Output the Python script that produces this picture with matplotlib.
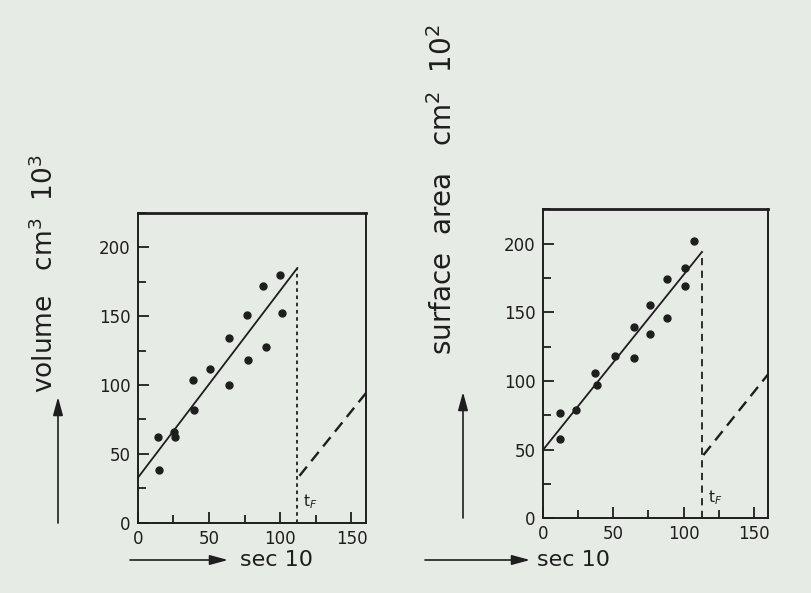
import matplotlib
matplotlib.use("Agg")
import matplotlib.pyplot as plt
from matplotlib.patches import FancyArrowPatch
from matplotlib.ticker import MultipleLocator

# ---- data ----
vol_t = [14, 15, 25.5, 26, 38.5, 39.5, 51, 64, 64, 77, 77.5, 88, 90, 100, 101]
vol_v = [62, 38, 66, 62, 104, 82, 112, 134, 100, 151, 118, 172, 128, 180, 152]
vol_fit_t = [0, 112]
vol_fit_v = [32.5, 185]
vol_post_t = [113.5, 160]
vol_post_v = [34, 94]
vol_tf = 112

area_t = [12, 12, 24, 37, 38.5, 51, 64.5, 65, 76, 76, 88.5, 88.5, 101, 101, 107]
area_v = [77, 58, 79, 106, 97, 118, 139, 117, 155, 134, 174, 146, 182, 169, 202]
area_fit_t = [0, 113]
area_fit_v = [49.5, 194]
area_post_t = [114, 160]
area_post_v = [46, 105]
area_tf = 113

x_ticks = [0, 50, 100, 150]
y_ticks = [0, 50, 100, 150, 200]
x_label = "sec 10"
vol_label = r"volume   cm$^3$  10$^3$"
area_label = r"surface  area   cm$^2$  10$^2$"

BG = "#e7ebe5"
INK = "#1e1e1e"

fig = plt.figure(figsize=(8.12, 5.93), dpi=100, facecolor=BG)
plt.rcParams['font.family'] = ['DejaVu Sans']


def panel(rect, t, v, fit_t, fit_v, post_t, post_v, tf, drop_style):
    ax = fig.add_axes(rect)
    ax.set_facecolor(BG)
    ax.set_xlim(0, 160)
    ax.set_ylim(0, 225)
    ax.plot(t, v, 'o', color=INK, ms=5, zorder=3)
    ax.plot(fit_t, fit_v, '-', color=INK, lw=1.3)
    ax.plot([tf, tf], [0, fit_v[-1]], color=INK, lw=1.3, linestyle=drop_style)
    ax.plot(post_t, post_v, color=INK, lw=1.7, linestyle=(0, (5, 3)))
    ax.text(tf + 4, 12, r"t$_F$", color=INK, fontsize=11)
    ax.set_xticks(x_ticks)
    ax.set_yticks(y_ticks)
    ax.xaxis.set_minor_locator(MultipleLocator(25))
    ax.yaxis.set_minor_locator(MultipleLocator(25))
    ax.tick_params(which='both', direction='in', color=INK, width=1.3,
                   labelsize=12, labelcolor=INK, top=False, right=False)
    ax.tick_params(which='major', length=8, pad=5)
    ax.tick_params(which='minor', length=6)
    for s in ax.spines.values():
        s.set_color(INK)
        s.set_linewidth(1.4)
    ax.spines['top'].set_linewidth(2)
    return ax


ax1 = panel([0.1696, 0.1186, 0.2808, 0.5222], vol_t, vol_v, vol_fit_t, vol_fit_v,
            vol_post_t, vol_post_v, vol_tf, (0, (2, 2)))
ax2 = panel([0.6683, 0.126, 0.2778, 0.521], area_t, area_v, area_fit_t, area_fit_v,
            area_post_t, area_post_v, area_tf, (0, (4, 3)))

W, H = 812.0, 593.0


def fx(px):
    return px / W


def fy(py):
    return 1 - py / H


# y labels (rotated) and arrows
fig.text(fx(45), fy(393), vol_label, rotation=90, ha='center', va='bottom',
         fontsize=19, color=INK)
fig.text(fx(443), fy(355), area_label, rotation=90, ha='center', va='bottom',
         fontsize=20, color=INK)


def arrow(p0, p1):
    fig.add_artist(FancyArrowPatch((fx(p0[0]), fy(p0[1])), (fx(p1[0]), fy(p1[1])),
                                   transform=fig.transFigure,
                                   arrowstyle='-|>,head_length=1.1,head_width=0.3',
                                   mutation_scale=10, color=INK, lw=1.2,
                                   shrinkA=0, shrinkB=0))


arrow((58, 523), (58, 397))
arrow((463, 518), (463, 392))
arrow((130, 560), (228, 560))
arrow((425, 560), (530, 560))

fig.text(fx(240), fy(560), x_label, ha='left', va='center', fontsize=16, color=INK)
fig.text(fx(537), fy(560), x_label, ha='left', va='center', fontsize=16, color=INK)

fig.savefig("out.png", dpi=100, facecolor=BG)
